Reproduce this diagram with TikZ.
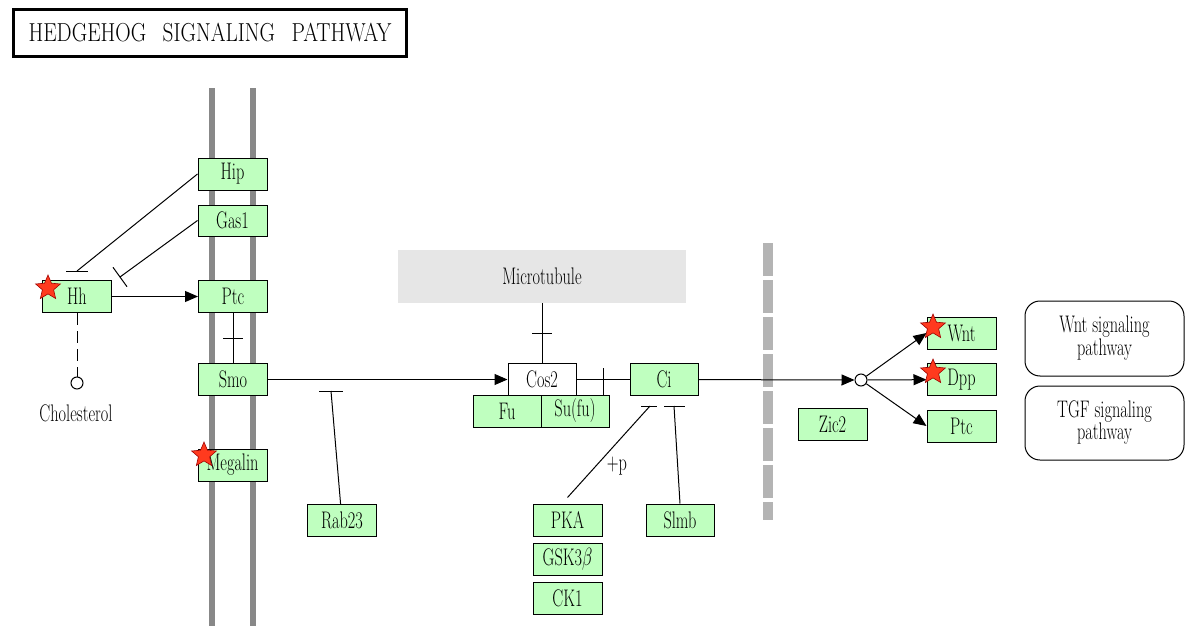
\documentclass[tikz,border=0pt]{standalone}
\usepackage{fontspec}
\usetikzlibrary{arrows.meta,shapes.geometric}
\definecolor{genefill}{HTML}{BFFFBF}
\definecolor{membrane}{HTML}{888888}
\definecolor{mtgray}{HTML}{E6E6E6}
\definecolor{cellbar}{HTML}{B4B4B4}
\definecolor{hit}{HTML}{FF3A1E}
\definecolor{hitline}{HTML}{A00000}
% narrow serif lettering
\newcommand{\kt}[1]{\scalebox{0.68}[1]{#1}}
\newcommand{\ktt}[2]{\scalebox{0.68}[1]{\begin{tabular}{@{}c@{}}#1\\#2\end{tabular}}}
\tikzset{
  lbl/.style={font=\rmfamily\fontsize{24}{20}\selectfont, align=center},
  gene/.style={lbl, draw, fill=genefill, line width=1pt, minimum width=69pt,
               minimum height=32pt, inner sep=0pt},
  pathbox/.style={lbl, draw, line width=1pt, rounded corners=15pt,
               minimum width=159pt, minimum height=75pt, inner sep=0pt},
  cpd/.style={circle, draw, fill=white, line width=1pt, minimum size=12pt, inner sep=0pt},
  link/.style={line width=1pt},
  act/.style={link, -{Triangle[length=13pt,width=11pt]}},
  hitstar/.style={star, star points=5, star point ratio=2.2, minimum size=26pt,
               inner sep=0pt, fill=hit, draw=hitline, line width=0.6pt}
}
\begin{document}
\begin{tikzpicture}[x=1pt,y=-1pt]
\useasboundingbox (0,0) rectangle (1186,626);

% title
\node[draw, line width=3pt, minimum width=393pt, minimum height=47pt, inner sep=0pt,
      font=\rmfamily\fontsize{26}{26}\selectfont] (title) at (210,33)
      {\scalebox{0.82}[1]{HEDGEHOG\hspace{20pt}SIGNALING\hspace{20pt}PATHWAY}};

% cell membrane
\draw[membrane, line width=6pt] (212,88) -- (212,626);
\draw[membrane, line width=6pt] (253,88) -- (253,626);
% nuclear envelope
\draw[cellbar, line width=10pt, dash pattern=on 33pt off 4pt] (768,243) -- (768,520);

% microtubule
\node[lbl, fill=mtgray, minimum width=288pt, minimum height=53pt, inner sep=0pt] (mt) at (542,276.5) {\kt{Microtubule}};

% gene products
\node[gene] (hip) at (232.5,174) {\kt{Hip}};
\node[gene, minimum height=31pt] (gas1) at (232.5,220.5) {\kt{Gas1}};
\node[gene] (hh) at (77,296.5) {\kt{Hh}};
\node[gene] (ptc) at (233,296.5) {\kt{Ptc}};
\node[gene] (smo) at (233,379.5) {\kt{Smo}};
\node[gene] (megalin) at (232.5,465) {\kt{Megalin}};
\node[gene] (rab23) at (342,520.5) {\kt{Rab23}};
\node[gene, fill=white, minimum width=68pt] (cos2) at (542,379.5) {\kt{Cos2}};
\node[gene, minimum width=68pt] (fu) at (507,411) {\kt{Fu}};
\node[gene, minimum width=68pt] (sufu) at (575,411) {\kt{Su(fu)}};
\node[gene, minimum width=68pt] (ci) at (664,379.5) {\kt{Ci}};
\node[gene] (pka) at (567.5,520) {\kt{PKA}};
\node[gene] (gsk) at (567.5,559) {\kt{GSK3$\beta$}};
\node[gene] (ck1) at (567.5,598) {\kt{CK1}};
\node[gene, minimum width=68pt] (slmb) at (680,520) {\kt{Slmb}};
\node[gene] (zic2) at (832.5,424) {\kt{Zic2}};
\node[gene] (wnt) at (961.5,333) {\kt{Wnt}};
\node[gene] (dpp) at (961.5,379.5) {\kt{Dpp}};
\node[gene] (ptc2) at (961.5,426) {\kt{Ptc}};

% linked pathways
\node[pathbox] (wntpath) at (1104.5,338.5) {\ktt{Wnt signaling}{pathway}};
\node[pathbox, minimum height=74pt] (tgfpath) at (1104.5,423) {\ktt{TGF signaling}{pathway}};

% compounds
\node[cpd] (chol) at (77,383) {};
\node[lbl] (chollbl) at (76,413) {\kt{Cholesterol}};
\node[cpd] (hub) at (861,380) {};

% relations
\draw[link, dash pattern=on 12pt off 6pt] (hh) -- (chol);
\draw[act] (hh) -- (ptc);

\coordinate (hipT) at (77,271);
\draw[link] (hip.west) -- (hipT);
\draw[link] ([xshift=-11pt]hipT) -- ([xshift=11pt]hipT);

\coordinate (gasT) at (120,277);
\draw[link] (gas1.west) -- (gasT);
\draw[link] ([shift={(-7,-9.7)}]gasT) -- ([shift={(7,9.7)}]gasT);

\coordinate (psT) at (233,338);
\draw[link] (ptc) -- (smo);
\draw[link] ([xshift=-10pt]psT) -- ([xshift=10pt]psT);

\draw[act] (smo) -- (cos2);

\coordinate (rabT) at (331,391);
\draw[link] (rab23) -- (rabT);
\draw[link] ([xshift=-12pt]rabT) -- ([xshift=12pt]rabT);

\coordinate (mtT) at (542,333);
\draw[link] (mt) -- (cos2);
\draw[link] ([xshift=-10pt]mtT) -- ([xshift=10pt]mtT);

\draw[link] (cos2) -- (ci);
\draw[link] (603,368) -- (603,395);

\coordinate (pkaT) at (650,406);
\draw[link] ([yshift=6pt]pka.north) -- (pkaT);
\draw[link] (641,406) -- (657,406);
\node[lbl] (plusp) at (617,466) {\kt{+p}};

\coordinate (slT) at (674,406);
\draw[link] (slmb.north) -- (slT);
\draw[link] ([xshift=-10pt]slT) -- ([xshift=11pt]slT);

\draw[act] (ci) -- (hub);
\draw[act] (hub) -- (wnt.west);
\draw[act] (hub) -- (dpp);
\draw[act] (hub) -- (ptc2.west);

% marked genes
\node[hitstar] at (48,288) {};
\node[hitstar] at (204,455) {};
\node[hitstar] at (933,327) {};
\node[hitstar] at (933,372) {};
\end{tikzpicture}
\end{document}
